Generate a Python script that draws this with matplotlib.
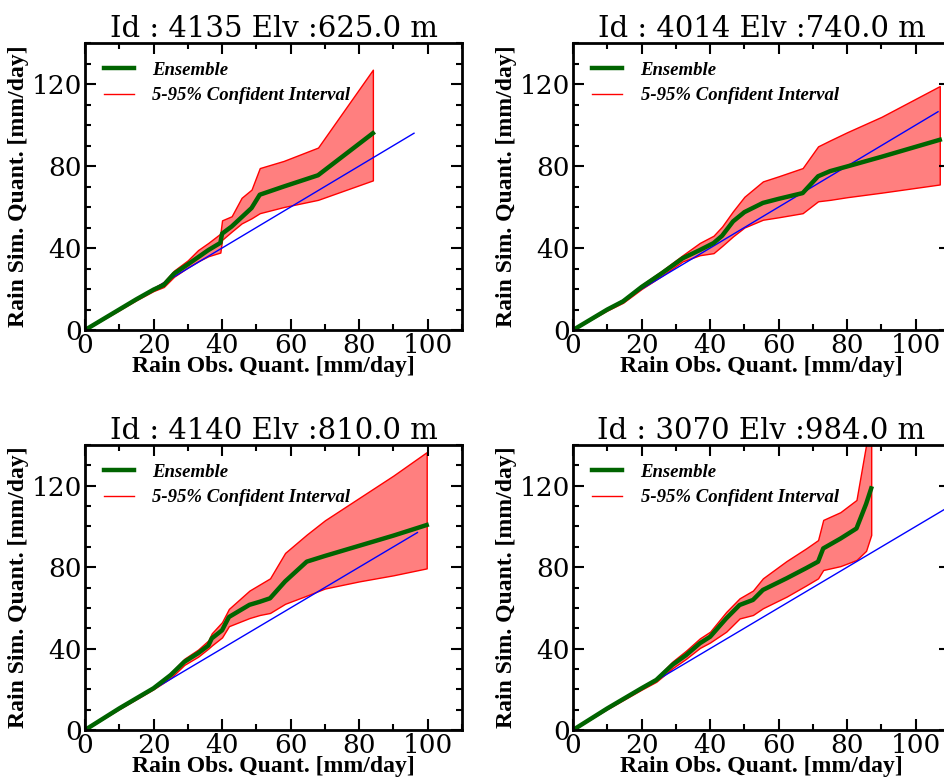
import matplotlib
matplotlib.use('Agg')
import matplotlib.pyplot as plt
from matplotlib.lines import Line2D
from matplotlib.ticker import MultipleLocator

# station 4135
x1 = [0, 5, 10, 15, 20, 23, 26, 30, 33, 36, 39.5, 40, 42.8, 45.7, 48.6, 51, 58, 68, 84]
ens1 = [0, 5, 10, 15, 19.7, 22, 27.5, 32, 35.5, 39, 42.5, 47, 50.5, 55, 59.5, 66, 70, 75.5, 96]
hi1 = [0, 5.3, 10.5, 15.5, 20.5, 23.5, 29, 34, 39, 42.5, 47, 53.5, 55.5, 64.5, 68.5, 79, 82.5, 89, 127]
lo1 = [0, 4.8, 9.6, 14.5, 19, 21, 26, 30.5, 33.5, 36, 37.8, 44, 48, 52, 54.5, 57, 60, 63.5, 73]
one1 = 96

# station 4014
x2 = [0, 5, 10, 14.6, 20, 26, 32, 37, 41, 43.5, 46.7, 50, 55.4, 60, 67, 71.5, 75, 80, 90, 107]
ens2 = [0, 5, 10, 14, 21, 27.8, 35, 39, 42.4, 46, 53, 57.5, 62, 64, 66.8, 75, 77.5, 79.8, 84.5, 92.8]
hi2 = [0, 5.3, 10.5, 14.8, 22, 29, 36.5, 42.5, 46, 50.5, 58, 65, 72.5, 75, 79, 89.6, 92.5, 96.5, 104, 119]
lo2 = [0, 4.8, 9.5, 13.3, 20, 26.5, 33.5, 36.5, 37.5, 41, 45.7, 50, 53.8, 55, 57, 62.8, 63.5, 64.8, 67, 71]
one2 = 106.5

# station 4140
x3 = [0, 10, 20, 25, 29, 33, 36, 37, 40, 42, 45, 48, 51, 54, 58.4, 64.7, 70, 80, 90, 99.7]
ens3 = [0, 10.6, 20.5, 27, 33.5, 37.7, 41.5, 45, 49, 55.5, 58.5, 61.5, 63, 64.7, 73, 82.7, 85.5, 90.5, 95.5, 100.7]
hi3 = [0, 11, 21, 28, 35, 39.5, 44, 47.5, 53, 59.5, 64, 68.5, 71.5, 74.5, 87, 96, 103, 114, 125, 136.5]
lo3 = [0, 10.2, 20, 25.5, 32, 36, 40, 41.5, 45.5, 51, 53, 55, 56.5, 57.5, 62, 66, 69.5, 73, 76, 79.4]
one3 = 97

# station 3070
x4 = [0, 10, 20, 24.3, 29, 33, 37, 40, 44.7, 48.6, 52.5, 55.4, 62.3, 68, 71.5, 73, 78, 82.7, 85.5, 87]
ens4 = [0, 10.6, 20.5, 24.6, 32, 36.8, 42.6, 45.8, 54.8, 61.4, 63.9, 68.8, 74.5, 79.5, 82.7, 89.2, 94, 99, 111, 118.7]
hi4 = [0, 11, 21, 25.5, 33.6, 39, 45, 48.3, 58, 64.7, 68.5, 74.5, 83, 89.2, 93.3, 103.2, 107, 113, 140, 152]
lo4 = [0, 10.2, 19.8, 23.7, 30.3, 35, 40.3, 43, 48.3, 54.8, 56.5, 59.8, 65.5, 71, 74.5, 78.6, 80.5, 83.5, 88, 95.8]
one4 = 120

ids = [4135, 4014, 4140, 3070]
elevs = [625.0, 740.0, 810.0, 984.0]

stations = [(x1, ens1, lo1, hi1, one1), (x2, ens2, lo2, hi2, one2),
            (x3, ens3, lo3, hi3, one3), (x4, ens4, lo4, hi4, one4)]

# axes boxes in figure fraction (the right column runs past the edge, as in the original)
boxes = [[0.090, 0.5758, 0.3994, 0.3689], [0.607, 0.5758, 0.3994, 0.3689],
         [0.090, 0.0617, 0.3994, 0.3663], [0.607, 0.0617, 0.3994, 0.3663]]

fig = plt.figure(figsize=(9.44, 7.78), dpi=100)

label_font = dict(family='Liberation Serif', weight='bold', size=17)
legend_font = dict(family='Liberation Serif', weight='bold', style='italic', size=13.5)

for i, (x, ens, lo, hi, one) in enumerate(stations):
    ax = fig.add_axes(boxes[i])
    ax.plot([0, one], [0, one], color='blue', lw=1)
    ax.fill_between(x, lo, hi, facecolor=(1, 0, 0, 0.5), edgecolor='red', lw=1)
    ax.plot(x, ens, color='darkgreen', lw=3.2)

    ax.set_xlim(0, 110)
    ax.set_ylim(0, 140)
    ax.xaxis.set_major_locator(MultipleLocator(20))
    ax.xaxis.set_minor_locator(MultipleLocator(10))
    ax.yaxis.set_major_locator(MultipleLocator(40))
    ax.yaxis.set_minor_locator(MultipleLocator(10))
    ax.tick_params(which='both', direction='in', top=True, right=True, width=1.5)
    ax.tick_params(which='major', length=8, pad=2, labelsize=19)
    ax.tick_params(which='minor', length=4)
    for lab in ax.get_xticklabels() + ax.get_yticklabels():
        lab.set_family('DejaVu Serif')
    for s in ax.spines.values():
        s.set_linewidth(2)

    ax.set_title(f'Id : {ids[i]} Elv :{elevs[i]} m', family='DejaVu Serif', size=21, pad=4)
    ax.set_xlabel('Rain Obs. Quant. [mm/day]', labelpad=-1, **label_font)
    ax.set_ylabel('Rain Sim. Quant. [mm/day]', labelpad=2, **label_font)

    handles = [Line2D([], [], color='darkgreen', lw=3.2), Line2D([], [], color='red', lw=1)]
    ax.legend(handles, ['Ensemble', '5-95% Confident Interval'], loc='upper left',
              frameon=False, prop=legend_font, handlelength=1.6, borderaxespad=0.6,
              labelspacing=0.45, handletextpad=1.0)

plt.savefig('out.png', dpi=100)
